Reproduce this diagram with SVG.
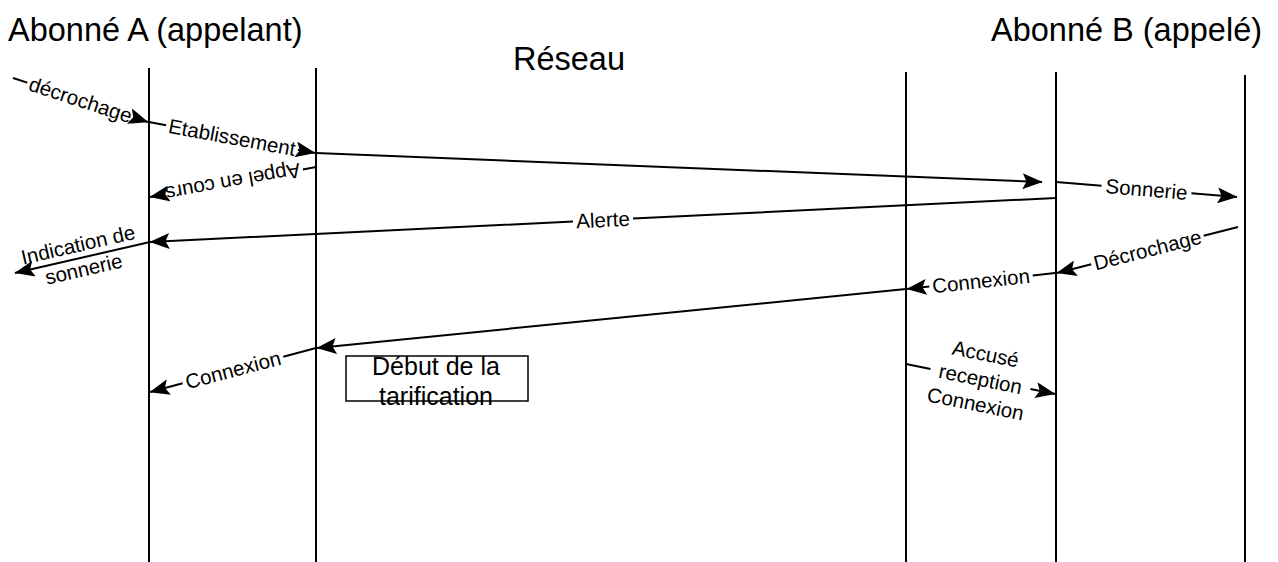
<svg xmlns="http://www.w3.org/2000/svg" width="1278" height="562" viewBox="0 0 1278 562">
  <defs>
    <marker id="arrow" viewBox="0 0 20 16" markerWidth="10" markerHeight="8" refX="19.5" refY="8" orient="auto" markerUnits="strokeWidth">
      <path d="M0,0 L20,8 L0,16 L4,8 z" fill="#000"/>
    </marker>
  </defs>
  <style>
    .title { font-family: "Liberation Sans", Arial, sans-serif; font-size: 32.5px; fill: #000; }
    .life { stroke: #000; stroke-width: 2; fill: none; }
    .msg { stroke: #000; stroke-width: 2; fill: none; marker-end: url(#arrow); }
    .lbl { font-family: "Liberation Sans", Arial, sans-serif; font-size: 20.5px; fill: #000; text-anchor: middle; }
    .box { fill: #fff; stroke: #000; stroke-width: 1.5; }
    .boxtxt { font-family: "Liberation Sans", Arial, sans-serif; font-size: 25px; fill: #000; text-anchor: middle; }
  </style>
  <rect width="1278" height="562" fill="#fff"/>

  <!-- participants -->
  <g id="abonne-a">
    <text class="title" x="8" y="41">Abonné A (appelant)</text>
    <line class="life" x1="149" y1="68" x2="149" y2="562"/>
  </g>
  <g id="reseau">
    <text class="title" x="513" y="70">Réseau</text>
    <line class="life" x1="316" y1="68" x2="316" y2="562"/>
    <line class="life" x1="906" y1="72" x2="906" y2="562"/>
  </g>
  <g id="abonne-b">
    <text class="title" x="991" y="41">Abonné B (appelé)</text>
    <line class="life" x1="1056" y1="72" x2="1056" y2="562"/>
    <line class="life" x1="1245" y1="75" x2="1245" y2="562"/>
  </g>

  <!-- billing start note -->
  <g id="debut-tarification">
    <rect class="box" x="346" y="356" width="182" height="45"/>
    <text class="boxtxt" x="436" y="375">Début de la</text>
    <text class="boxtxt" x="436" y="405">tarification</text>
  </g>

  <!-- messages: each path leaves a gap where its label sits -->
  <g id="connectors">
    <g id="m-decrochage-a">
      <path class="msg" d="M13,78 L27.3,82.6 M133.7,117.4 L148,122"/>
      <text class="lbl" transform="translate(80.5,100) rotate(18.05)" x="0" y="7">décrochage</text>
    </g>
    <g id="m-etablissement">
      <path class="msg" d="M149,122 L166.1,125.2 M297.9,149.8 L315,153"/>
      <text class="lbl" transform="translate(232,137.5) rotate(10.52)" x="0" y="7">Etablissement</text>
    </g>
    <g id="m-setup-b">
      <path class="msg" d="M316,153 L1042,182"/>
    </g>
    <g id="m-appel-en-cours">
      <path class="msg" d="M316,167 L302.9,169.4 M163.1,194.6 L150,197"/>
      <text class="lbl" transform="translate(233,182) rotate(169.76)" x="0" y="7">Appel en cours</text>
    </g>
    <g id="m-sonnerie">
      <path class="msg" d="M1056,182 L1101.6,185.8 M1191.4,193.2 L1237,197"/>
      <text class="lbl" transform="translate(1146.5,189.5) rotate(4.74)" x="0" y="7">Sonnerie</text>
    </g>
    <g id="m-alerte">
      <path class="msg" d="M1056,198 L633,218.5 M573,221.5 L150,242"/>
      <text class="lbl" transform="translate(603,220) rotate(-2.78)" x="0" y="7">Alerte</text>
    </g>
    <g id="m-indication">
      <path class="msg" d="M150,242 L15,273"/>
      <g transform="translate(81,257.5) rotate(-12.93)">
        <text class="lbl" x="0" y="-6">Indication de</text>
        <text class="lbl" x="0" y="19">sonnerie</text>
      </g>
    </g>
    <g id="m-decrochage-b">
      <path class="msg" d="M1238,227 L1203.7,235.7 M1091.3,264.3 L1057,273"/>
      <text class="lbl" transform="translate(1147.5,250) rotate(-14.26)" x="0" y="7">Décrochage</text>
    </g>
    <g id="m-connexion-b">
      <path class="msg" d="M1055,273 L1032.7,275.4 M929.3,286.6 L907,289"/>
      <text class="lbl" transform="translate(981,281) rotate(-6.17)" x="0" y="7">Connexion</text>
    </g>
    <g id="m-connexion-net">
      <path class="msg" d="M906,289 L317,348"/>
    </g>
    <g id="m-connexion-a">
      <path class="msg" d="M316,348 L283.3,356.7 M182.7,383.3 L150,392"/>
      <text class="lbl" transform="translate(233,370) rotate(-14.85)" x="0" y="7">Connexion</text>
    </g>
    <g id="m-accuse">
      <path class="msg" d="M906,364 L930.5,368.9 M1030.5,389.1 L1055,394"/>
      <g transform="translate(980.5,379) rotate(11.38)">
        <text class="lbl" x="0" y="-18.5">Accusé</text>
        <text class="lbl" x="0" y="7">reception</text>
        <text class="lbl" x="0" y="32.5">Connexion</text>
      </g>
    </g>
  </g>
</svg>
